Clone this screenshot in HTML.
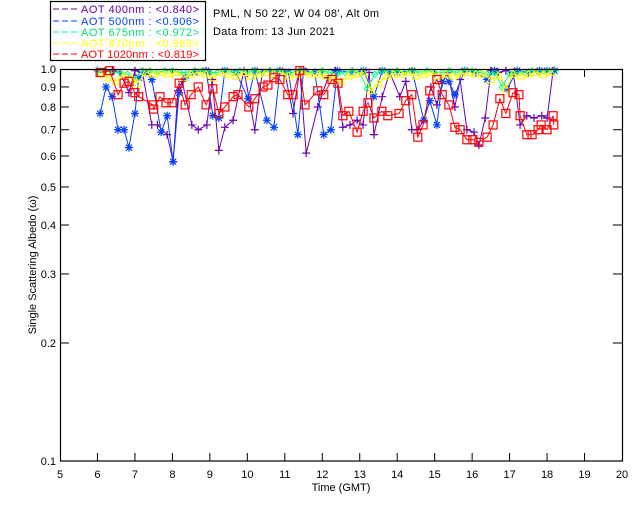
<!DOCTYPE html>
<html><head><meta charset="utf-8"><style>
html,body{margin:0;padding:0;background:#fff;}
svg{display:block;font-family:"Liberation Sans",sans-serif;}
</style></head><body>
<svg id="chart" width="640" height="512" viewBox="0 0 640 512" xmlns="http://www.w3.org/2000/svg">
<rect x="0" y="0" width="640" height="512" fill="#fff"/>
<g>
<rect x="50.5" y="1.5" width="155" height="59" fill="#fff" stroke="#000" stroke-width="1.2"/>
<g font-size="11">
<line x1="53" y1="9" x2="77" y2="9" stroke="#6a00b0" stroke-dasharray="6,3"/><text x="81" y="13" fill="#6a00b0" textLength="118" lengthAdjust="spacing">AOT  400nm : &lt;0.840&gt;</text>
<line x1="53" y1="21" x2="77" y2="21" stroke="#0040ff" stroke-dasharray="6,3"/><text x="81" y="25" fill="#0040ff" textLength="118" lengthAdjust="spacing">AOT  500nm : &lt;0.906&gt;</text>
<line x1="53" y1="32" x2="77" y2="32" stroke="#00ff80" stroke-dasharray="6,3"/><text x="81" y="36" fill="#00e070" textLength="118" lengthAdjust="spacing">AOT  675nm : &lt;0.972&gt;</text>
<line x1="53" y1="43" x2="77" y2="43" stroke="#ffff00" stroke-dasharray="6,3"/><text x="81" y="47" fill="#ffff00" textLength="118" lengthAdjust="spacing">AOT  870nm : &lt;0.963&gt;</text>
<line x1="53" y1="54" x2="77" y2="54" stroke="#ff0000" stroke-dasharray="6,3"/><text x="81" y="58" fill="#ff0000" textLength="118" lengthAdjust="spacing">AOT 1020nm : &lt;0.819&gt;</text>
</g></g>
<text x="213" y="17" font-size="11" textLength="166" lengthAdjust="spacing">PML, N 50 22', W 04 08', Alt 0m</text>
<text x="213" y="35" font-size="11" textLength="122" lengthAdjust="spacing">Data from: 13 Jun 2021</text>
<g id="axes"></g>
<g id="series"></g>
<rect x="60.5" y="69.5" width="562" height="391.5" fill="none" stroke="#000" stroke-width="1.2"/>
<text x="341" y="491" font-size="11" text-anchor="middle">Time (GMT)</text>
<text transform="translate(36,265) rotate(-90)" font-size="11" text-anchor="middle">Single Scattering Albedo (ω)</text>
</svg>
<script>
const xTicks = [5,6,7,8,9,10,11,12,13,14,15,16,17,18,19,20];
const yTicks = [1.0,0.9,0.8,0.7,0.6,0.5,0.4,0.3,0.2,0.1];
const yTickLabels = ["1.0","0.9","0.8","0.7","0.6","0.5","0.4","0.3","0.2","0.1"];

const t400 = [6.0,6.2,6.4,6.6,6.84,7.0,7.2,7.45,7.6,7.86,8.02,8.15,8.26,8.52,8.69,8.92,9.06,9.24,9.4,9.62,9.91,10.2,10.4,10.6,10.8,11.0,11.22,11.4,11.57,11.88,12.15,12.35,12.55,12.74,12.93,13.09,13.25,13.38,13.6,13.8,14.07,14.23,14.39,14.55,14.71,14.9,15.06,15.2,15.35,15.54,15.68,15.86,16.05,16.18,16.35,16.5,16.7,16.9,17.1,17.28,17.46,17.65,17.86,18.0,18.16];
const v400 = [.99,.99,.99,.98,.87,.99,.98,.72,.72,.68,.58,.88,.93,.72,.70,.72,.94,.62,.71,.74,.99,.70,.98,.99,.98,.98,.77,.99,.61,.80,.95,.99,.71,.72,.74,.72,.98,.68,.85,.98,.85,.93,.70,.70,.74,.90,.81,.92,.98,.80,.94,.70,.69,.64,.75,.99,.98,.99,.98,.72,.76,.75,.76,.75,.99];

const t500 = [6.07,6.23,6.39,6.55,6.71,6.84,7.0,7.1,7.3,7.45,7.7,7.86,8.02,8.18,8.34,8.6,8.9,9.08,9.24,9.4,9.7,10.02,10.2,10.52,10.71,10.87,11.1,11.35,11.5,11.8,12.04,12.23,12.4,12.8,13.1,13.38,13.6,14.0,14.4,14.71,14.87,15.06,15.2,15.38,15.54,15.8,16.1,16.4,16.6,16.93,17.2,17.5,17.8,18.0,18.2];
const v500 = [.77,.90,.85,.70,.70,.63,.77,.95,.98,.94,.69,.76,.58,.87,.95,.98,.99,.76,.75,.99,.98,.84,.99,.74,.71,.99,.98,.68,.99,.98,.68,.70,.99,.98,.99,.85,.99,.98,.99,.74,.83,.72,.93,.93,.86,.99,.98,.94,.99,.89,.99,.98,.99,.99,.99];

const t675 = [6.0,6.2,6.4,6.6,6.8,7.0,7.2,7.4,7.6,7.8,8.0,8.2,8.4,8.6,8.8,9.0,9.2,9.4,9.6,9.8,10.0,10.2,10.4,10.6,10.8,11.0,11.2,11.4,11.6,11.8,12.0,12.2,12.4,12.6,12.8,13.0,13.2,13.4,13.6,13.8,14.0,14.2,14.4,14.6,14.8,15.0,15.2,15.4,15.6,15.8,16.0,16.2,16.4,16.6,16.8,17.0,17.2,17.4,17.6,17.8,18.0,18.2];
const v675 = [.99,.99,.98,.98,.97,.94,.99,.99,.98,.99,.99,.98,.98,.99,.99,.98,.98,.99,.98,.99,.98,.99,.98,.99,.99,.98,.98,.99,.98,.98,.99,.98,.97,.98,.99,.98,.89,.97,.99,.98,.99,.98,.99,.98,.99,.98,.98,.99,.98,.99,.99,.98,.97,.98,.90,.97,.98,.98,.99,.98,.99,.99];

const t870 = [6.1,6.3,6.5,6.7,6.9,7.05,7.3,7.5,7.7,7.9,8.1,8.3,8.5,8.7,8.9,9.1,9.3,9.5,9.7,9.9,10.1,10.3,10.5,10.7,10.9,11.1,11.3,11.5,11.7,11.9,12.1,12.3,12.5,12.7,12.9,13.1,13.3,13.5,13.7,13.9,14.1,14.3,14.5,14.7,14.9,15.1,15.3,15.5,15.7,15.9,16.1,16.3,16.5,16.7,16.9,17.1,17.3,17.5,17.7,17.9,18.1];
const v870 = [.97,.95,.93,.96,.95,.92,.98,.97,.98,.97,.98,.95,.97,.98,.97,.95,.98,.97,.96,.98,.96,.97,.98,.97,.98,.96,.97,.98,.97,.97,.96,.95,.93,.96,.97,.98,.88,.92,.96,.97,.97,.98,.96,.97,.98,.96,.97,.96,.97,.98,.97,.97,.94,.96,.89,.97,.96,.97,.98,.97,.98];

const t1020 = [6.07,6.33,6.55,6.71,6.84,7.0,7.1,7.48,7.5,7.67,7.83,7.99,8.18,8.34,8.5,8.69,8.9,9.08,9.24,9.4,9.62,9.75,10.04,10.2,10.42,10.55,10.71,10.87,11.08,11.22,11.4,11.54,11.88,12.04,12.26,12.42,12.55,12.71,12.93,13.09,13.22,13.38,13.59,13.75,14.05,14.23,14.39,14.55,14.69,14.87,15.06,15.2,15.38,15.54,15.68,15.86,16.02,16.18,16.4,16.56,16.74,16.9,17.09,17.25,17.28,17.46,17.6,17.76,17.84,18.0,18.16,18.18];
const v1020 = [.98,.99,.86,.92,.93,.87,.85,.81,.79,.85,.82,.82,.92,.81,.86,.90,.81,.89,.77,.80,.85,.86,.80,.84,.90,.91,.95,.94,.86,.86,.99,.81,.88,.86,.94,.92,.76,.78,.69,.78,.82,.75,.78,.76,.77,.83,.86,.67,.72,.88,.94,.86,.81,.71,.70,.66,.66,.65,.67,.72,.84,.77,.87,.86,.76,.68,.68,.70,.72,.70,.76,.72];

const NS = "http://www.w3.org/2000/svg";
const X0 = 60, X1 = 622, Y0 = 461, Y1 = 69;
function xs(h){ return X0 + (h - 5) / 15 * (X1 - X0); }
function ys(v){ return Y0 - (Math.log10(v) + 1) * (Y0 - Y1); }
function mk(tag, attrs, parent){
  const e = document.createElementNS(NS, tag);
  for (const k in attrs) e.setAttribute(k, attrs[k]);
  parent.appendChild(e);
  return e;
}
const axes = document.getElementById('axes');
xTicks.forEach(function(h){
  const x = xs(h);
  if (h > 5 && h < 20) {
    const a = mk('line', {x1:x, y1:Y0, x2:x, y2:Y0-8, stroke:'#000'}, axes);
    
    
    const b = mk('line', {x1:x, y1:Y1, x2:x, y2:Y1+8, stroke:'#000'}, axes);
    
    
  }
  const t = mk('text', {x:x, y:478, 'font-size':11, 'text-anchor':'middle'}, axes);
  t.textContent = String(h);
  
  
});
yTicks.forEach(function(v, i){
  const y = ys(v);
  if (i > 0 && i < yTicks.length - 1) {
    const a = mk('line', {x1:X0, y1:y, x2:X0+9, y2:y, stroke:'#000'}, axes);
    
    
    const b = mk('line', {x1:X1, y1:y, x2:X1-9, y2:y, stroke:'#000'}, axes);
    
    
  }
  const t = mk('text', {x:56, y:y+4, 'font-size':11, 'text-anchor':'end'}, axes);
  t.textContent = yTickLabels[i];
  
  
});

const seriesG = document.getElementById('series');
function marker(type, x, y, color, g){
  let e;
  if (type === 'plus') {
    e = mk('path', {d:`M${x-4} ${y}H${x+4}M${x} ${y-4}V${y+4}`, stroke:color, 'stroke-width':1.2, fill:'none'}, g);
  } else if (type === 'star') {
    e = mk('path', {d:`M${x-4} ${y}H${x+4}M${x} ${y-4}V${y+4}M${x-3} ${y-3}L${x+3} ${y+3}M${x-3} ${y+3}L${x+3} ${y-3}`, stroke:color, 'stroke-width':1.2, fill:'none'}, g);
  } else if (type === 'diamond') {
    e = mk('path', {d:`M${x} ${y-3}L${x+3} ${y}L${x} ${y+3}L${x-3} ${y}Z`, stroke:color, fill:'none'}, g);
  } else if (type === 'tri') {
    e = mk('path', {d:`M${x} ${y-4}L${x+4} ${y+3}L${x-4} ${y+3}Z`, stroke:color, fill:'none'}, g);
  } else {
    e = mk('rect', {x:x-4, y:y-4, width:8, height:8, stroke:color, 'stroke-width':1.2, fill:'none'}, g);
  }
  
  
}
function drawSeries(name, ts, vs, color, type){
  const g = mk('g', {}, seriesG);
  
  
  const pts = ts.map(function(t, i){ return xs(t).toFixed(1) + ',' + ys(vs[i]).toFixed(1); }).join(' ');
  const pl = mk('polyline', {points:pts, fill:'none', stroke:color, 'stroke-width':1}, g);
  
  
  ts.forEach(function(t, i){ marker(type, xs(t), ys(vs[i]), color, g); });
}
drawSeries('series-400nm', t400, v400, '#6a00b0', 'plus');
drawSeries('series-500nm', t500, v500, '#0040ff', 'star');
drawSeries('series-675nm', t675, v675, '#00ff80', 'diamond');
drawSeries('series-870nm', t870, v870, '#ffff00', 'tri');
drawSeries('series-1020nm', t1020, v1020, '#ff0000', 'square');
</script>
</body></html>
